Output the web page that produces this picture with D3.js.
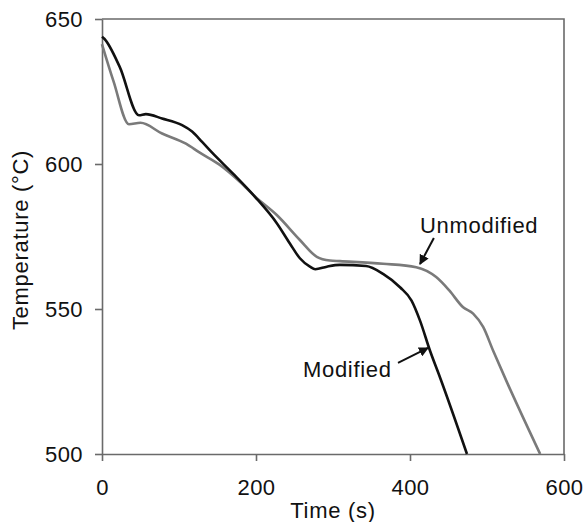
<!DOCTYPE html>
<html>
<head>
<meta charset="utf-8">
<script src="https://cdn.jsdelivr.net/npm/d3@7/dist/d3.min.js"></script>
<style>
  html, body { margin: 0; padding: 0; background: #fff; }
  svg text { font-family: "Liberation Sans", Arial, sans-serif; fill: #111; }
</style>
</head>
<body>
<svg id="chart" width="587" height="522"></svg>
<script>
// ---- data ----
const modifiedTime = [0, 3, 23, 48, 57, 78, 104, 117, 130, 143, 170.5, 198.7, 227, 244, 257, 270, 277, 292, 309, 343, 365, 387, 402, 413, 426, 439, 474];
const modifiedTemp = [643.9, 643.2, 633.5, 616.8, 617.2, 615.7, 613.4, 611.2, 607.6, 603.9, 596.6, 588.7, 579.6, 572.6, 567.5, 564.6, 563.7, 564.6, 565.2, 564.8, 562.1, 557.5, 552.9, 546, 535.6, 526.4, 500];
const unmodifiedTime = [0, 15, 35, 50, 78, 109, 127, 153, 179, 199, 227, 257, 279, 296, 309, 365, 408, 434, 451, 469, 482, 495, 508, 525, 569];
const unmodifiedTemp = [641.3, 628.5, 613.7, 614.2, 610.5, 607, 603.9, 599.7, 593.9, 588.7, 582.4, 573.8, 568, 566.7, 566.5, 565.6, 564.4, 561, 556.4, 550.6, 548.4, 543.8, 535.6, 525.3, 500];
const xTicks = [0, 200, 400, 600];
const yTicks = [500, 550, 600, 650];
const xLabel = "Time (s)";
const yLabel = "Temperature (°C)";
// annotations in data units: [label, textT, textV, tailT, tailV, headT, headV]
const annotUnmod = ["Unmodified", 413, 576.2, 431, 574.5, 413, 565.5];
const annotMod = ["Modified", 261, 526.6, 384.4, 531.4, 423.4, 536.6];

// ---- layout ----
const W = 587, H = 522;
const m = { left: 102, top: 19, right: 23, bottom: 68 };
const svg = d3.select("#chart");
const x = d3.scaleLinear().domain([0, 600]).range([m.left, W - m.right]);
const y = d3.scaleLinear().domain([500, 650]).range([H - m.bottom, m.top]);
const axisColor = "#6a6a6a";
const ls = "0.7px";

svg.append("defs").append("marker")
  .attr("id", "arrow").attr("viewBox", "0 0 10 10")
  .attr("refX", 9).attr("refY", 5)
  .attr("markerWidth", 5).attr("markerHeight", 5)
  .attr("markerUnits", "strokeWidth")
  .attr("orient", "auto")
  .append("path").attr("d", "M0,0 L10,5 L0,10 Z").attr("fill", "#111");

// frame (top & right)
svg.append("path")
  .attr("d", `M${x(0)},${y(650)} H${x(600)} V${y(500)}`)
  .attr("fill", "none").attr("stroke", axisColor).attr("stroke-width", 1.6);

// axes
const xAxis = svg.append("g").attr("transform", `translate(0,${y(500)})`)
  .call(d3.axisBottom(x).tickValues(xTicks).tickSize(7).tickSizeOuter(0).tickPadding(18));
const yAxis = svg.append("g").attr("transform", `translate(${x(0)},0)`)
  .call(d3.axisLeft(y).tickValues(yTicks).tickSize(7).tickSizeOuter(0).tickPadding(12));
[xAxis, yAxis].forEach(g => {
  g.select(".domain").attr("stroke", axisColor).attr("stroke-width", 1.6);
  g.selectAll(".tick line").attr("stroke", axisColor).attr("stroke-width", 1.6);
  g.selectAll(".tick text").attr("font-size", 22).attr("fill", "#111")
    .style("letter-spacing", "0.4px")
    .style("font-family", '"Liberation Sans", Arial, sans-serif');
});

// lines
const line = d3.line().x(d => x(d[0])).y(d => y(d[1])).curve(d3.curveMonotoneX);
svg.append("path").datum(d3.zip(unmodifiedTime, unmodifiedTemp))
  .attr("d", line).attr("fill", "none").attr("stroke", "#7a7a7a").attr("stroke-width", 2.6)
  .attr("stroke-linejoin", "round");
svg.append("path").datum(d3.zip(modifiedTime, modifiedTemp))
  .attr("d", line).attr("fill", "none").attr("stroke", "#111").attr("stroke-width", 2.6)
  .attr("stroke-linejoin", "round");

// annotations
[annotUnmod, annotMod].forEach(a => {
  svg.append("text").attr("x", x(a[1])).attr("y", y(a[2])).attr("font-size", 22)
    .style("letter-spacing", ls).text(a[0]);
  svg.append("line")
    .attr("x1", x(a[3])).attr("y1", y(a[4])).attr("x2", x(a[5])).attr("y2", y(a[6]))
    .attr("stroke", "#111").attr("stroke-width", 2).attr("marker-end", "url(#arrow)");
});

// axis titles
svg.append("text").attr("x", (x(0) + x(600)) / 2).attr("y", 518)
  .attr("text-anchor", "middle").attr("font-size", 22).style("letter-spacing", ls).text(xLabel);
svg.append("text").attr("transform", `translate(28,${240}) rotate(-90)`)
  .attr("text-anchor", "middle").attr("font-size", 22).style("letter-spacing", ls).text(yLabel);
</script>
</body>
</html>
